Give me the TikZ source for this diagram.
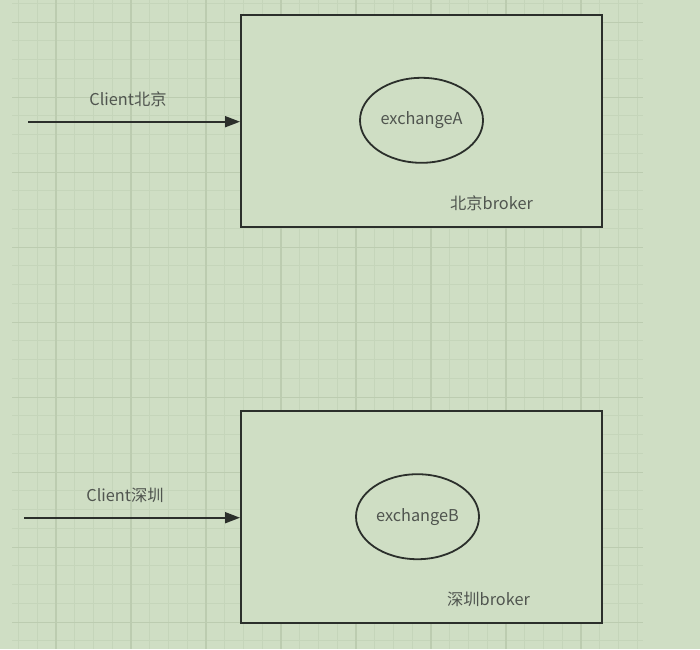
\documentclass[tikz,border=0pt]{standalone}
\usepackage{fontspec}
\setmainfont{Noto Sans CJK SC}
\usepackage{tikz}
\definecolor{paper}{HTML}{CFDEC4}
\definecolor{gridminor}{HTML}{C5D5BA}
\definecolor{gridmajor}{HTML}{BCCCB0}
\definecolor{ink}{HTML}{2B2F2B}
\definecolor{labelgray}{HTML}{50554F}
\usetikzlibrary{shapes.geometric, arrows.meta, positioning, calc}

\begin{document}
\begin{tikzpicture}[x=1pt, y=-1pt,
  broker/.style={rectangle, draw=ink, fill=paper, line width=2pt, minimum width=361pt, minimum height=212pt, inner sep=0pt},
  exch/.style={ellipse, draw=ink, line width=1.8pt, minimum width=123pt, minimum height=85pt, inner sep=0pt, text=labelgray, font=\fontsize{16.3}{18}\selectfont},
  tag/.style={text=labelgray, inner sep=0pt, font=\fontsize{16.3}{18}\selectfont},
  flow/.style={-{Triangle[length=15pt, width=11pt]}, draw=ink, line width=1.8pt}]
\useasboundingbox (0,0) rectangle (700,649);
\fill[paper] (0,0) rectangle (700,649);
\foreach \x in {0,...,33} \draw[gridminor, line width=1pt] (18.5+18.75*\x,0) -- (18.5+18.75*\x,649);
\foreach \y in {0,...,34} \draw[gridminor, line width=1pt] (12,3.3+18.75*\y) -- (643,3.3+18.75*\y);
\foreach \x in {0,...,7} \draw[gridmajor, line width=1.1pt] (56+75*\x,0) -- (56+75*\x,649);
\foreach \y in {0,...,8} \draw[gridmajor, line width=1.1pt] (12,22.3+75*\y) -- (643,22.3+75*\y);

\node[broker] (brokerA) at (421.5,120.8) {};
\node[exch] (exchA) at (421.5,120.3) {exchangeA};
\node[tag] (nameA) at (491.5,203) {北京broker};
\coordinate (srcA) at (28,121.7);
\node[tag] (clientA) at (128,99) {Client北京};
\draw[flow] (srcA) -- (srcA -| brokerA.west);

\node[broker] (brokerB) at (421.5,516.5) {};
\node[exch] (exchB) at (417.5,516.7) {exchangeB};
\node[tag] (nameB) at (488.5,599) {深圳broker};
\coordinate (srcB) at (24,517.7);
\node[tag] (clientB) at (125,495) {Client深圳};
\draw[flow] (srcB) -- (srcB -| brokerB.west);
\end{tikzpicture}
\end{document}
